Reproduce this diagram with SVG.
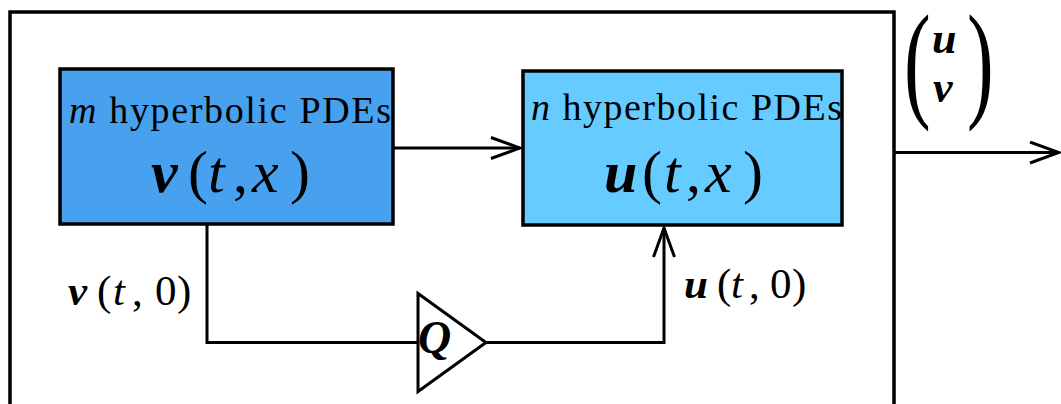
<svg xmlns="http://www.w3.org/2000/svg" width="1061" height="404" viewBox="0 0 1061 404">
<style>
.frame{fill:none;stroke:#000;stroke-width:3.5}
.box{stroke:#000;stroke-width:3.5}
.conn{fill:none;stroke:#000;stroke-width:3;stroke-linejoin:miter}
.t{font-family:"Liberation Serif","Times New Roman",serif;fill:#000}
.it{font-style:italic}
.bi{font-style:italic;font-weight:bold}
</style>
<defs>
<marker id="arr" viewBox="0 0 32 24" refX="30" refY="12" markerWidth="32" markerHeight="24" markerUnits="userSpaceOnUse" orient="auto">
<path d="M1,1.5 L30,12 L1,22.5" fill="none" stroke="#000" stroke-width="3"/>
</marker>
</defs>
<rect width="1061" height="404" fill="#fff"/>
<g id="frame">
<path class="frame" d="M10,410 L10,12 L894,12 L894,410"/>
</g>
<g id="connectors">
<path class="conn" d="M393,148 L520,148" marker-end="url(#arr)"/>
<path class="conn" d="M207,225 L207,342.5 L418,342.5"/>
<path class="conn" d="M486,342.5 L664,342.5 L664,228" marker-end="url(#arr)"/>
<path class="conn" d="M894,152.5 L1059,152.5" marker-end="url(#arr)"/>
</g>
<g id="node-v">
<rect class="box" x="60" y="69" width="333" height="155" fill="#47A1EF"/>
<text class="t" x="69" y="122.5" font-size="38" textLength="322" lengthAdjust="spacing"><tspan class="it">m</tspan> hyperbolic PDEs</text>
<text class="t" y="192" font-size="60"><tspan class="bi" x="151">v</tspan><tspan x="188">(</tspan><tspan class="it" x="208">t</tspan><tspan x="233">,</tspan><tspan class="it" x="252">x</tspan><tspan x="290">)</tspan></text>
</g>
<g id="node-u">
<rect class="box" x="523" y="71" width="319" height="154" fill="#66CCFF"/>
<text class="t" x="531" y="119.5" font-size="38" textLength="311" lengthAdjust="spacing"><tspan class="it">n</tspan> hyperbolic PDEs</text>
<text class="t" y="191.5" font-size="60"><tspan class="bi" x="604">u</tspan><tspan x="642">(</tspan><tspan class="it" x="664">t</tspan><tspan x="686">,</tspan><tspan class="it" x="705">x</tspan><tspan x="743">)</tspan></text>
</g>
<g id="node-q">
<path class="conn" d="M418,293.5 L418,391.5 L486,342.5 Z" fill="#fff"/>
<text class="t bi" x="418" y="353" font-size="46">Q</text>
</g>
<g id="label-v0">
<text class="t" y="305" font-size="43"><tspan class="bi" x="68">v</tspan><tspan x="97">(</tspan><tspan class="it" x="113">t</tspan><tspan x="132">,</tspan><tspan x="155">0</tspan><tspan x="177">)</tspan></text>
</g>
<g id="label-u0">
<text class="t" y="298" font-size="43"><tspan class="bi" x="684">u</tspan><tspan x="717">(</tspan><tspan class="it" x="731">t</tspan><tspan x="749">,</tspan><tspan x="770">0</tspan><tspan x="792">)</tspan></text>
</g>
<g id="label-out">
<text class="t" transform="translate(904,104) scale(1,1.62)" font-size="80">(</text>
<text class="t bi" x="932" y="53" font-size="44">u</text>
<text class="t bi" x="933" y="102" font-size="44">v</text>
<text class="t" transform="translate(967,104) scale(1,1.62)" font-size="80">)</text>
</g>
</svg>
